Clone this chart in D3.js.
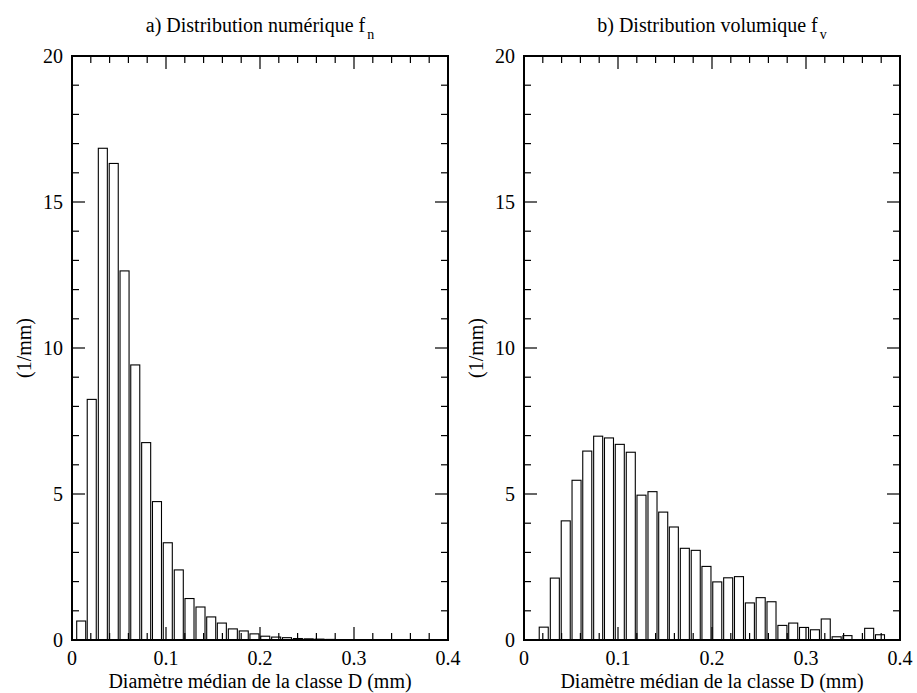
<!DOCTYPE html>
<html>
<head>
<meta charset="utf-8">
<script src="https://cdn.jsdelivr.net/npm/d3@7"></script>
</head>
<body style="margin:0">
<script>
// ---------- data ----------
const classCenters = [0.0098, 0.0210, 0.0328, 0.0444, 0.0559, 0.0673, 0.0789, 0.0904, 0.1019, 0.1136,
                      0.1250, 0.1367, 0.1481, 0.1594, 0.1711, 0.1827, 0.1941, 0.2056, 0.2172, 0.2287,
                      0.2403, 0.2518, 0.2633, 0.2749, 0.2864, 0.2979, 0.3095, 0.3210, 0.3326, 0.3441,
                      0.3556, 0.3672, 0.3787];
const fnValues = [0.65, 8.24, 16.84, 16.32, 12.64, 9.42, 6.76, 4.74, 3.33, 2.40,
                  1.42, 1.13, 0.79, 0.58, 0.38, 0.31, 0.21, 0.13, 0.10, 0.08,
                  0.05, 0.04, 0.03, 0.02, 0.01];
const fvValues = [0, 0.44, 2.12, 4.08, 5.47, 6.47, 6.98, 6.92, 6.70, 6.43,
                  4.96, 5.08, 4.38, 3.87, 3.14, 3.07, 2.52, 1.99, 2.13, 2.17,
                  1.27, 1.45, 1.31, 0.50, 0.58, 0.43, 0.35, 0.72, 0.11, 0.15,
                  0, 0.40, 0.18];
const xTickLabels = ["0", "0.1", "0.2", "0.3", "0.4"];
const yTickLabels = ["0", "5", "10", "15", "20"];
const xMajorTicks = [0, 0.1, 0.2, 0.3, 0.4];
const yMajorTicks = [0, 5, 10, 15, 20];
const xMinorTicks = [0.02, 0.04, 0.06, 0.08, 0.12, 0.14, 0.16, 0.18, 0.22, 0.24, 0.26, 0.28, 0.32, 0.34, 0.36, 0.38];
const yMinorTicks = [1, 2, 3, 4, 6, 7, 8, 9, 11, 12, 13, 14, 16, 17, 18, 19];
const panelTitles = [["a) Distribution numérique f", "n"], ["b) Distribution volumique f", "v"]];
const xAxisTitle = "Diamètre médian de la classe D (mm)";
const yAxisTitle = "(1/mm)";
const barWidthMm = 0.0096;

// ---------- layout ----------
const W = 917, H = 693;
const FAM = "Liberation Serif";
const panels = [
  { x0: 72, x1: 448, values: fnValues, title: panelTitles[0] },
  { x0: 524, x1: 900, values: fvValues, title: panelTitles[1] }
];
const yTop = 56, yBot = 640;
const MAJ = 13, MIN = 7;

const svg = d3.select("body").append("svg").attr("width", W).attr("height", H)
  .attr("font-family", FAM);

function label(str, size) {
  const t = svg.append("text")
    .attr("font-size", size)
    .style("font-family", `'${FAM}'`);
  if (str !== null) t.text(str);
  return t;
}

panels.forEach(p => {
  const x = d3.scaleLinear().domain([0, 0.4]).range([p.x0, p.x1]);
  const y = d3.scaleLinear().domain([0, 20]).range([yBot, yTop]);
  const g = svg.append("g");

  const data = p.values.map((v, i) => ({ c: classCenters[i], v })).filter(d => d.v > 0);

  // bars
  g.selectAll("rect.bar").data(data).enter().append("rect")
    .attr("class", "bar")
    .attr("x", d => x(d.c - barWidthMm / 2))
    .attr("width", d => x(d.c + barWidthMm / 2) - x(d.c - barWidthMm / 2))
    .attr("y", d => y(d.v))
    .attr("height", d => y(0) - y(d.v))
    .attr("fill", "#fff")
    .attr("stroke", "#000")
    .attr("stroke-width", 1.1);

  // inward ticks on all four sides (drawn over the bars)
  const tickG = g.append("g").attr("stroke", "#000").attr("stroke-width", 1.2);
  const addX = (vals, len) => {
    vals.forEach(v => {
      tickG.append("line").attr("x1", x(v)).attr("x2", x(v)).attr("y1", yBot).attr("y2", yBot - len);
      tickG.append("line").attr("x1", x(v)).attr("x2", x(v)).attr("y1", yTop).attr("y2", yTop + len);
    });
  };
  const addY = (vals, len) => {
    vals.forEach(v => {
      tickG.append("line").attr("y1", y(v)).attr("y2", y(v)).attr("x1", p.x0).attr("x2", p.x0 + len);
      tickG.append("line").attr("y1", y(v)).attr("y2", y(v)).attr("x1", p.x1).attr("x2", p.x1 - len);
    });
  };
  addX(xMajorTicks, MAJ); addX(xMinorTicks, MIN);
  addY(yMajorTicks, MAJ); addY(yMinorTicks, MIN);

  // frame
  g.append("rect")
    .attr("x", p.x0).attr("y", yTop)
    .attr("width", p.x1 - p.x0).attr("height", yBot - yTop)
    .attr("fill", "none").attr("stroke", "#000").attr("stroke-width", 2);

  // tick labels
  xMajorTicks.forEach((v, i) => {
    label(xTickLabels[i], 20).attr("x", x(v)).attr("y", 665).attr("text-anchor", "middle");
  });
  yMajorTicks.forEach((v, i) => {
    label(yTickLabels[i], 20).attr("x", p.x0 - 9).attr("y", y(v) + 7).attr("text-anchor", "end");
  });

  // axis titles
  label(xAxisTitle, 20).attr("x", (p.x0 + p.x1) / 2).attr("y", 688).attr("text-anchor", "middle");
  label(yAxisTitle, 20)
    .attr("transform", `translate(${p.x0 - 41},${(yTop + yBot) / 2}) rotate(-90)`)
    .attr("text-anchor", "middle");

  // panel title
  const t = label(null, 20).attr("x", (p.x0 + p.x1) / 2).attr("y", 32).attr("text-anchor", "middle");
  t.append("tspan").text(p.title[0]);
  t.append("tspan").attr("dx", 2).attr("dy", 7).attr("font-size", 14).text(p.title[1]);
});
</script>
</body>
</html>
